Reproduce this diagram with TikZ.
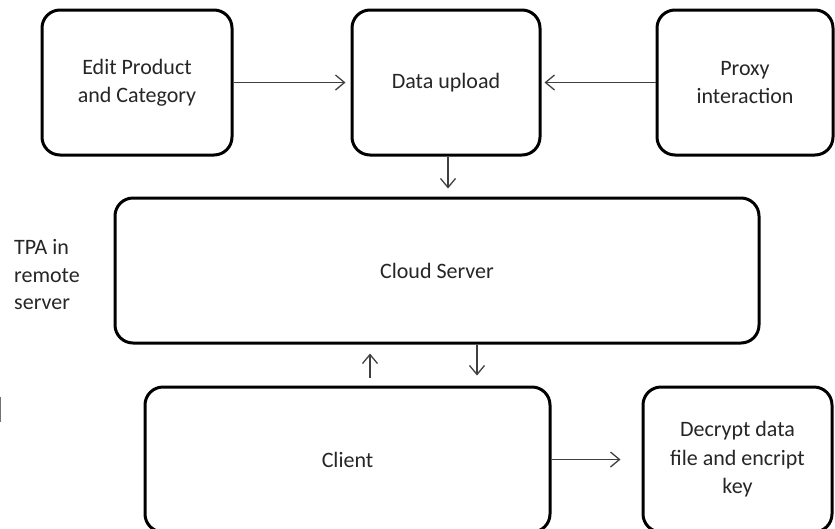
\documentclass[tikz,border=0pt]{standalone}
\usepackage{fontspec}
\setmainfont{Carlito}
\usetikzlibrary{arrows.meta}

\tikzset{
  x=1pt, y=-1pt,
  block/.style={draw=black, line width=3pt, rounded corners=18pt,
    inner sep=0pt, align=center, text=black!85,
    font=\fontsize{22pt}{28.5pt}\selectfont},
  link/.style={draw=black!75, line width=1.3pt,
    -{Straight Barb[length=9pt,width=15pt,line width=1.3pt]}}
}

\begin{document}
\begin{tikzpicture}
\useasboundingbox (0,0) rectangle (835,528);
\clip (0,0) rectangle (835,528);
\fill[white] (0,0) rectangle (835,528);

% top row
\node[block, minimum width=190pt, minimum height=145pt] (edit) at (137,82.5) {Edit Product\\and Category};
\node[block, minimum width=188pt, minimum height=145pt] (upload) at (446,82.5) {Data upload};
\node[block, minimum width=176pt, minimum height=145pt] (proxy) at (745,82.5) {Proxy\\interaction};

% server
\node[block, minimum width=644pt, minimum height=145pt] (cloud) at (437,270.5) {Cloud Server};
\node[anchor=west, align=left, inner sep=0pt, text=black!85,
  font=\fontsize{22pt}{27.5pt}\selectfont] (tpa) at (14,275) {TPA in\\remote\\server};

% bottom row
\node[block, minimum width=405pt, minimum height=145pt] (client) at (347.5,459.5) {Client};
\node[block, minimum width=189pt, minimum height=145pt] (decrypt) at (737.5,459.5) {Decrypt data\\file and encript\\key};

% connector columns
\coordinate (upcol) at (370,0);
\coordinate (downcol) at (477,0);
\coordinate (feedcol) at (448,0);

% connectors
\draw[link, shorten >=5pt] (edit.east) -- (upload.west);
\draw[link, shorten >=3pt] (proxy.west) -- (upload.east);
\draw[link, shorten >=8pt] (upload.south -| feedcol) -- (cloud.north -| feedcol);
\draw[link, shorten <=8pt, shorten >=9pt] (client.north -| upcol) -- (cloud.south -| upcol);
\draw[link, shorten >=10pt] (cloud.south -| downcol) -- (client.north -| downcol);
\draw[link, shorten >=21pt] (client.east) -- (decrypt.west);

% stray mark at the left edge
\draw[black!55, line width=1.2pt] (0.8,397) -- (0.8,422);
\end{tikzpicture}
\end{document}
